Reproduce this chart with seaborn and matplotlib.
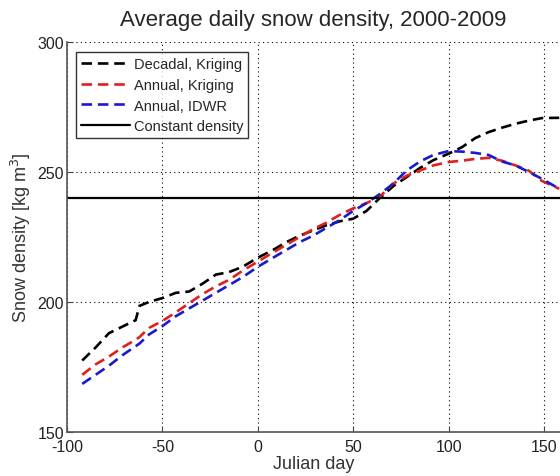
import matplotlib
matplotlib.use("Agg")
import matplotlib.pyplot as plt
import seaborn as sns
import pandas as pd

# Julian day (relative to Jan 1) at which each series is sampled
days = [-92, -85, -78, -71, -64, -62, -57, -50, -43, -36, -29, -22, -15, -8,
        0, 8, 15, 22, 29, 36, 43, 50, 57, 64, 71, 78, 85, 92, 100, 107, 114,
        121, 128, 135, 142, 149, 158]

decadal_kriging = [177.5, 182.5, 188.0, 190.5, 193.0, 198.5, 200.0, 201.5,
                   203.5, 204.0, 207.0, 210.5, 211.5, 213.5, 217.0, 220.0,
                   223.0, 225.5, 227.5, 229.5, 231.0, 232.0, 235.0, 240.0,
                   244.5, 248.0, 251.5, 254.5, 257.0, 259.5, 263.0, 265.3,
                   267.0, 268.5, 269.7, 270.7, 270.8]

annual_kriging = [172.0, 176.0, 179.0, 182.5, 185.5, 186.5, 190.0, 192.7,
                  196.0, 199.5, 203.0, 206.0, 208.5, 212.0, 215.5, 219.0,
                  222.0, 225.0, 228.0, 230.5, 233.5, 236.0, 238.0, 240.5,
                  245.5, 248.5, 250.5, 252.5, 253.8, 254.3, 255.0, 255.4,
                  254.3, 252.5, 250.5, 246.5, 243.5]

annual_idwr = [168.5, 172.0, 175.5, 179.5, 183.0, 184.0, 187.5, 190.7,
               194.5, 197.5, 200.5, 203.5, 206.5, 209.5, 213.5, 217.0,
               220.0, 223.0, 225.5, 228.5, 231.5, 235.0, 238.0, 241.5,
               245.5, 250.5, 254.0, 256.5, 258.0, 257.8, 257.3, 256.5,
               254.0, 252.5, 250.0, 247.3, 243.5]

constant_density = 240.0

series_names = ["Decadal, Kriging", "Annual, Kriging", "Annual, IDWR"]
series_colors = ["#000000", "#e0201c", "#1a1acc"]

xticks = [-100, -50, 0, 50, 100, 150]
yticks = [150, 200, 250, 300]

df = pd.DataFrame({
    "day": days * 3,
    "density": decadal_kriging + annual_kriging + annual_idwr,
    "series": sum([[n] * len(days) for n in series_names], []),
})

sns.set_style("white")
plt.rcParams["font.family"] = ["Liberation Sans", "DejaVu Sans"]

fig = plt.figure(figsize=(5.60, 4.77), dpi=100)
ax = fig.add_axes([0.1196, 0.0922, 0.8804, 0.818])

for name, color in zip(series_names, series_colors):
    sns.lineplot(data=df[df["series"] == name], x="day", y="density",
                 color=color, linewidth=1.9, dashes=False, ax=ax,
                 label=name)
    ax.lines[-1].set_dashes([4, 2.2])

ax.axhline(constant_density, color="black", linewidth=1.6,
           label="Constant density")

ax.set_xlim(-100, 158.4)
ax.set_ylim(150, 300)
ax.set_xticks(xticks)
ax.set_yticks(yticks)
ax.set_xticklabels([str(t) for t in xticks])
ax.set_yticklabels([str(t) for t in yticks])

for lab in ax.get_xticklabels() + ax.get_yticklabels():
    lab.set_fontsize(11.5)
    lab.set_color("#222222")

ax.grid(True, linestyle=(0, (1, 3)), color="black", linewidth=0.8)
ax.tick_params(axis="both", direction="in", length=4, width=0.8,
               color="#444444")
ax.tick_params(axis="y", left=True, pad=2)
ax.tick_params(axis="x", bottom=True, pad=5)

for side in ["top", "right"]:
    ax.spines[side].set_visible(False)
for side in ["left", "bottom"]:
    ax.spines[side].set_color("#555555")
    ax.spines[side].set_linewidth(1.2)

ax.set_xlabel("Julian day", fontsize=13, color="#333333", labelpad=1)
ax.set_ylabel(r"Snow density [kg m$^{3}$]", fontsize=13, color="#333333",
              labelpad=3)
ax.set_title("Average daily snow density, 2000-2009", fontsize=16,
             pad=12)

leg = ax.legend(loc="upper left", bbox_to_anchor=(0.01, 0.985),
                fontsize=10.5, frameon=True, fancybox=False,
                handlelength=3.3, handletextpad=0.3, borderpad=0.35,
                labelspacing=0.46, borderaxespad=0.3)
leg.get_frame().set_edgecolor("black")
leg.get_frame().set_linewidth(1.0)

fig.savefig("out.png", dpi=100)
